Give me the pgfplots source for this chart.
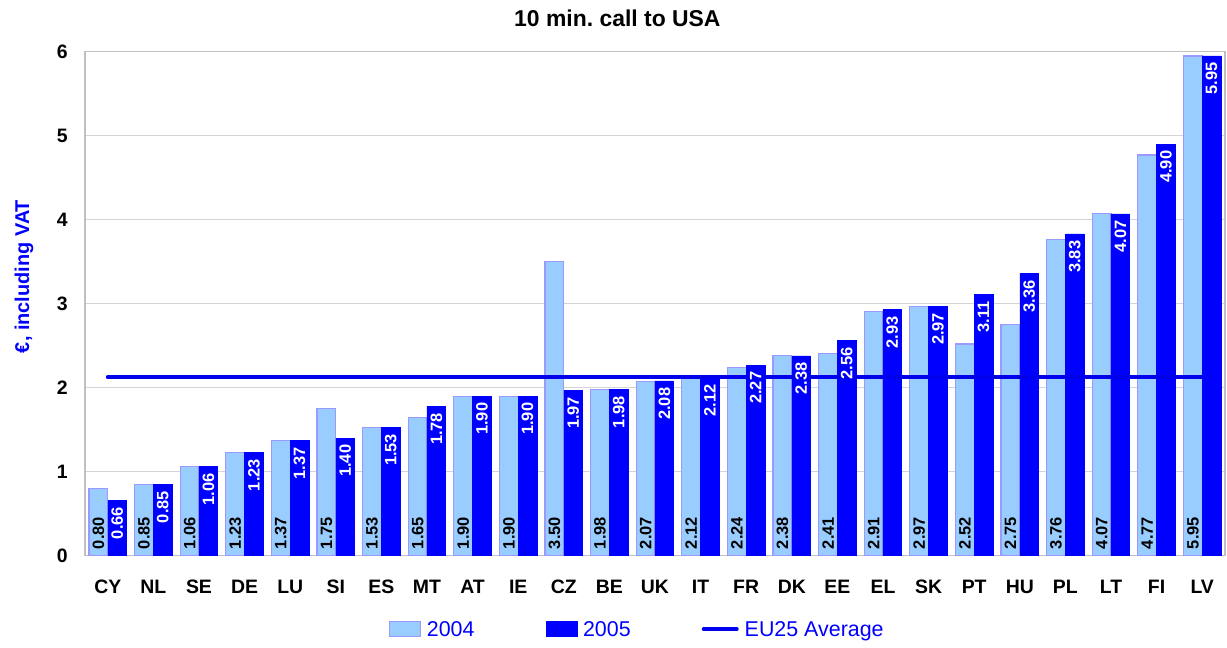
\documentclass[border=0pt]{standalone}
\usepackage{pgfplots}
\pgfplotsset{compat=1.18}
\usepackage{pgfplotstable}
\usepackage{fontspec}
\setmainfont{Liberation Sans}
\frenchspacing
\definecolor{c04}{RGB}{153,204,255}
\definecolor{c04b}{RGB}{153,153,255}
\definecolor{c05}{RGB}{0,0,255}
\definecolor{avgc}{RGB}{0,0,235}
\definecolor{gridc}{RGB}{212,212,212}
\definecolor{framec}{RGB}{192,192,192}
\pgfplotsset{
  barlegend/.style={legend image code/.code={\draw[##1] (0bp,-7bp) rectangle (31bp,8bp);}},
  linelegend/.style={legend image code/.code={\draw[##1] (1bp,0.5bp) -- (34bp,0.5bp);}},
}
\pgfplotstableread{
x c y04 y05
0 CY 0.80 0.66
1 NL 0.85 0.85
2 SE 1.06 1.06
3 DE 1.23 1.23
4 LU 1.37 1.37
5 SI 1.75 1.40
6 ES 1.53 1.53
7 MT 1.65 1.78
8 AT 1.90 1.90
9 IE 1.90 1.90
10 CZ 3.50 1.97
11 BE 1.98 1.98
12 UK 2.07 2.08
13 IT 2.12 2.12
14 FR 2.24 2.27
15 DK 2.38 2.38
16 EE 2.41 2.56
17 EL 2.91 2.93
18 SK 2.97 2.97
19 PT 2.52 3.11
20 HU 2.75 3.36
21 PL 3.76 3.83
22 LT 4.07 4.07
23 FI 4.77 4.90
24 LV 5.95 5.95
}\datatable
\pgfplotstableread{
x avg
0 2.125
24 2.125
}\avgtable
\begin{document}
\begin{tikzpicture}
\useasboundingbox (-85bp,-92.3bp) rectangle (1142bp,555.7bp);
\begin{axis}[
  at={(0,0)}, anchor=south west,
  scale only axis, width=1140bp, height=504bp,
  xmin=-0.5, xmax=24.5, ymin=0, ymax=6,
  enlargelimits=false,
  xtick={0,...,24},
  xticklabels from table={\datatable}{c},
  ytick={0,1,2,3,4,5,6},
  major tick length=0pt,
  /pgf/number format/assume math mode=true,
  ymajorgrids, grid style={draw=gridc, line width=1bp},
  axis line style={draw=framec, line width=1.5bp},
  tick label style={font=\fontsize{19.5}{22}\selectfont\bfseries, inner sep=0pt},
  xticklabel style={anchor=north, yshift=-23.3bp, text height=14bp, text depth=0pt},
  yticklabel style={anchor=east, xshift=-17bp},
  title={10 min. call to USA},
  title style={at={(axis description cs:0.467,1)}, anchor=base, yshift=19.5bp, inner sep=0pt, font=\fontsize{23}{26}\selectfont\bfseries},
  ylabel={€, including VAT},
  ylabel style={at={(axis description cs:-0.0535,0.554)}, anchor=center, inner sep=0pt, text=c05, font=\fontsize{20}{24}\selectfont\bfseries},
  legend columns=3,
  legend style={at={(axis description cs:0.4835,-0.1464)}, anchor=center, draw=none, fill=none,
    font=\fontsize{21.5}{24}\selectfont, text=c05,
    nodes={inner sep=0pt},
    /tikz/every odd column/.append style={column sep=6bp},
    /tikz/every even column/.append style={column sep=71bp}},
  legend cell align=left,
]
\addplot[ybar, bar width=18.7bp, bar shift=-9.35bp, fill=c04, draw=c04b, line width=1.2bp,
  visualization depends on={y \as \rawy},
  nodes near coords={\pgfmathprintnumber[fixed,fixed zerofill,precision=2]{\pgfplotspointmeta}},
  every node near coord/.append style={shift={(axis direction cs:0,-\rawy)}, xshift=-9.35bp, rotate=90, anchor=west, inner xsep=6bp, inner ysep=0pt, text=black, font=\fontsize{16.5}{18}\selectfont\bfseries},
  barlegend
] table[x=x, y=y04] {\datatable};
\addlegendentry{2004}
\addplot[ybar, bar width=18.7bp, bar shift=9.35bp, fill=c05, draw=c05, line width=0.5bp,
  nodes near coords={\pgfmathprintnumber[fixed,fixed zerofill,precision=2]{\pgfplotspointmeta}},
  every node near coord/.append style={xshift=9.35bp, rotate=90, anchor=east, inner xsep=6.5bp, inner ysep=0pt, text=white, font=\fontsize{16.5}{18}\selectfont\bfseries},
  barlegend
] table[x=x, y=y05] {\datatable};
\addlegendentry{2005}
\addplot[sharp plot, mark=none, draw=avgc, line width=4bp, line cap=round, linelegend
] table[x=x, y=avg] {\avgtable};
\addlegendentry{EU25 Average}
\end{axis}
\end{tikzpicture}
\end{document}
